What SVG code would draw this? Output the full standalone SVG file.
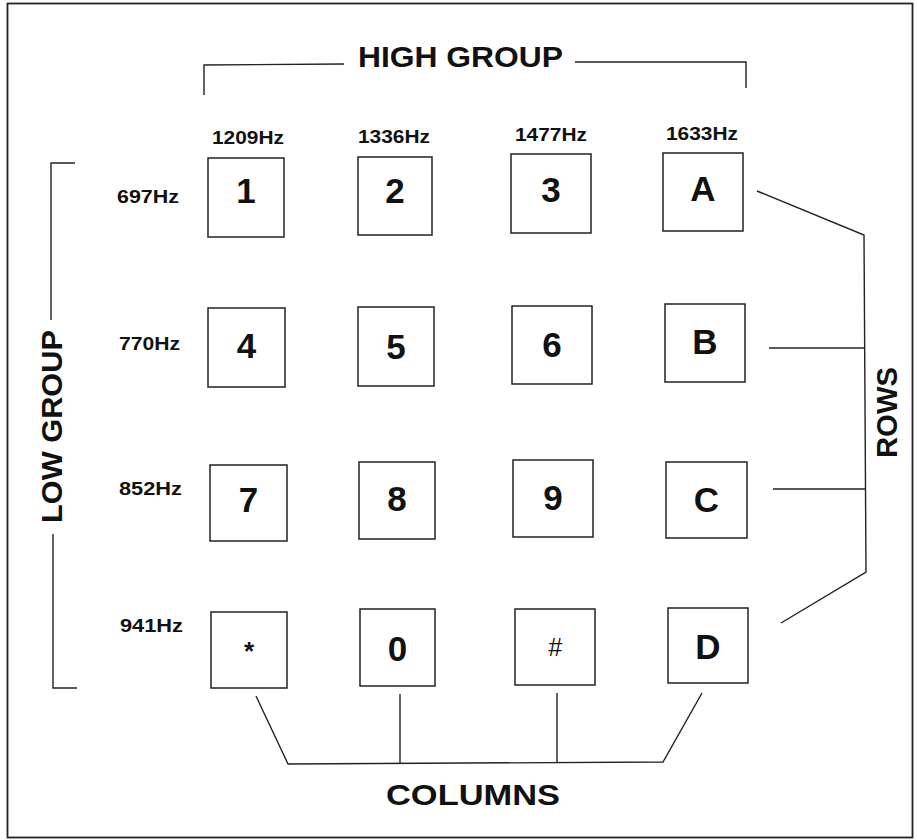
<svg xmlns="http://www.w3.org/2000/svg" width="917" height="840" viewBox="0 0 917 840">
<style>
.key{fill:#fff;stroke:#222;stroke-width:1.5}
.kl{font-family:"Liberation Sans",Arial,sans-serif;font-weight:bold;font-size:35px;fill:#111;text-anchor:middle}
.fq{font-family:"Liberation Sans",Arial,sans-serif;font-weight:bold;font-size:18px;fill:#111}
.big{font-family:"Liberation Sans",Arial,sans-serif;font-weight:bold;font-size:30px;fill:#111}
.ln{fill:none;stroke:#222;stroke-width:1.4;stroke-linejoin:miter}
</style>
<rect x="0" y="0" width="917" height="840" fill="#fff"/>
<rect x="7.5" y="3.5" width="905" height="834" fill="none" stroke="#222" stroke-width="1.8"/>

<g id="high-group">
<text class="big" x="358" y="67" textLength="205" lengthAdjust="spacingAndGlyphs">HIGH GROUP</text>
</g>
<g id="low-group">
<text class="big" transform="translate(62,523) rotate(-90)" textLength="193" lengthAdjust="spacingAndGlyphs">LOW GROUP</text>
</g>
<g id="rows">
<text class="big" transform="translate(897,458) rotate(-90)" textLength="91" lengthAdjust="spacingAndGlyphs">ROWS</text>
</g>
<g id="columns">
<text class="big" x="386" y="805" textLength="174" lengthAdjust="spacingAndGlyphs">COLUMNS</text>
</g>

<g id="freq-high">
<text class="fq" x="212" y="144" textLength="72" lengthAdjust="spacingAndGlyphs">1209Hz</text>
<text class="fq" x="358" y="143" textLength="72" lengthAdjust="spacingAndGlyphs">1336Hz</text>
<text class="fq" x="515" y="141" textLength="72" lengthAdjust="spacingAndGlyphs">1477Hz</text>
<text class="fq" x="666" y="140" textLength="72" lengthAdjust="spacingAndGlyphs">1633Hz</text>
</g>
<g id="freq-low">
<text class="fq" x="117" y="203" textLength="62" lengthAdjust="spacingAndGlyphs">697Hz</text>
<text class="fq" x="119" y="350" textLength="61" lengthAdjust="spacingAndGlyphs">770Hz</text>
<text class="fq" x="119" y="495" textLength="63" lengthAdjust="spacingAndGlyphs">852Hz</text>
<text class="fq" x="120" y="632" textLength="63" lengthAdjust="spacingAndGlyphs">941Hz</text>
</g>

<g id="key-1"><rect class="key" x="208" y="158" width="76" height="79"/><text class="kl" x="246" y="203">1</text></g>
<g id="key-2"><rect class="key" x="358" y="157" width="74" height="78"/><text class="kl" x="395" y="203">2</text></g>
<g id="key-3"><rect class="key" x="511" y="154" width="80" height="79"/><text class="kl" x="551" y="202">3</text></g>
<g id="key-A"><rect class="key" x="663" y="153" width="80" height="78"/><text class="kl" x="703" y="201">A</text></g>

<g id="key-4"><rect class="key" x="208" y="308" width="77" height="79"/><text class="kl" x="246.5" y="358">4</text></g>
<g id="key-5"><rect class="key" x="358" y="307" width="76" height="79"/><text class="kl" x="396" y="359">5</text></g>
<g id="key-6"><rect class="key" x="512" y="306" width="80" height="78"/><text class="kl" x="552" y="357">6</text></g>
<g id="key-B"><rect class="key" x="665" y="304" width="80" height="78"/><text class="kl" x="705" y="354">B</text></g>

<g id="key-7"><rect class="key" x="210" y="465" width="77" height="76"/><text class="kl" x="248.5" y="512">7</text></g>
<g id="key-8"><rect class="key" x="359" y="462" width="76" height="77"/><text class="kl" x="397" y="511">8</text></g>
<g id="key-9"><rect class="key" x="513" y="460" width="80" height="77"/><text class="kl" x="553" y="510">9</text></g>
<g id="key-C"><rect class="key" x="666" y="462" width="81" height="76"/><text class="kl" x="706.5" y="512">C</text></g>

<g id="key-star"><rect class="key" x="211" y="612" width="76" height="76"/><text class="kl" x="249" y="660" style="font-size:26px">*</text></g>
<g id="key-0"><rect class="key" x="360" y="609" width="75" height="77"/><text class="kl" x="397.5" y="661">0</text></g>
<g id="key-hash"><rect class="key" x="515" y="609" width="80" height="76"/><text class="kl" x="555" y="656" style="font-size:25px;font-weight:normal;font-style:italic">#</text></g>
<g id="key-D"><rect class="key" x="668" y="608" width="80" height="75"/><text class="kl" x="708" y="659">D</text></g>

<g id="connectors">
<polyline class="ln" points="204,95 204,65 344,64"/>
<polyline class="ln" points="575,62 746,62 746,88"/>
<polyline class="ln" points="75,163 51,163 51,320"/>
<polyline class="ln" points="53,534 53,688 77,688"/>
<polyline class="ln" points="757,191 864,235 866,572 781,623"/>
<line class="ln" x1="769" y1="348" x2="865" y2="348"/>
<line class="ln" x1="773" y1="489" x2="866" y2="489"/>
<polyline class="ln" points="256,696 288,764 663,762 702,693"/>
<line class="ln" x1="400" y1="694" x2="400" y2="764"/>
<line class="ln" x1="557" y1="693" x2="557" y2="763"/>
</g>
</svg>
